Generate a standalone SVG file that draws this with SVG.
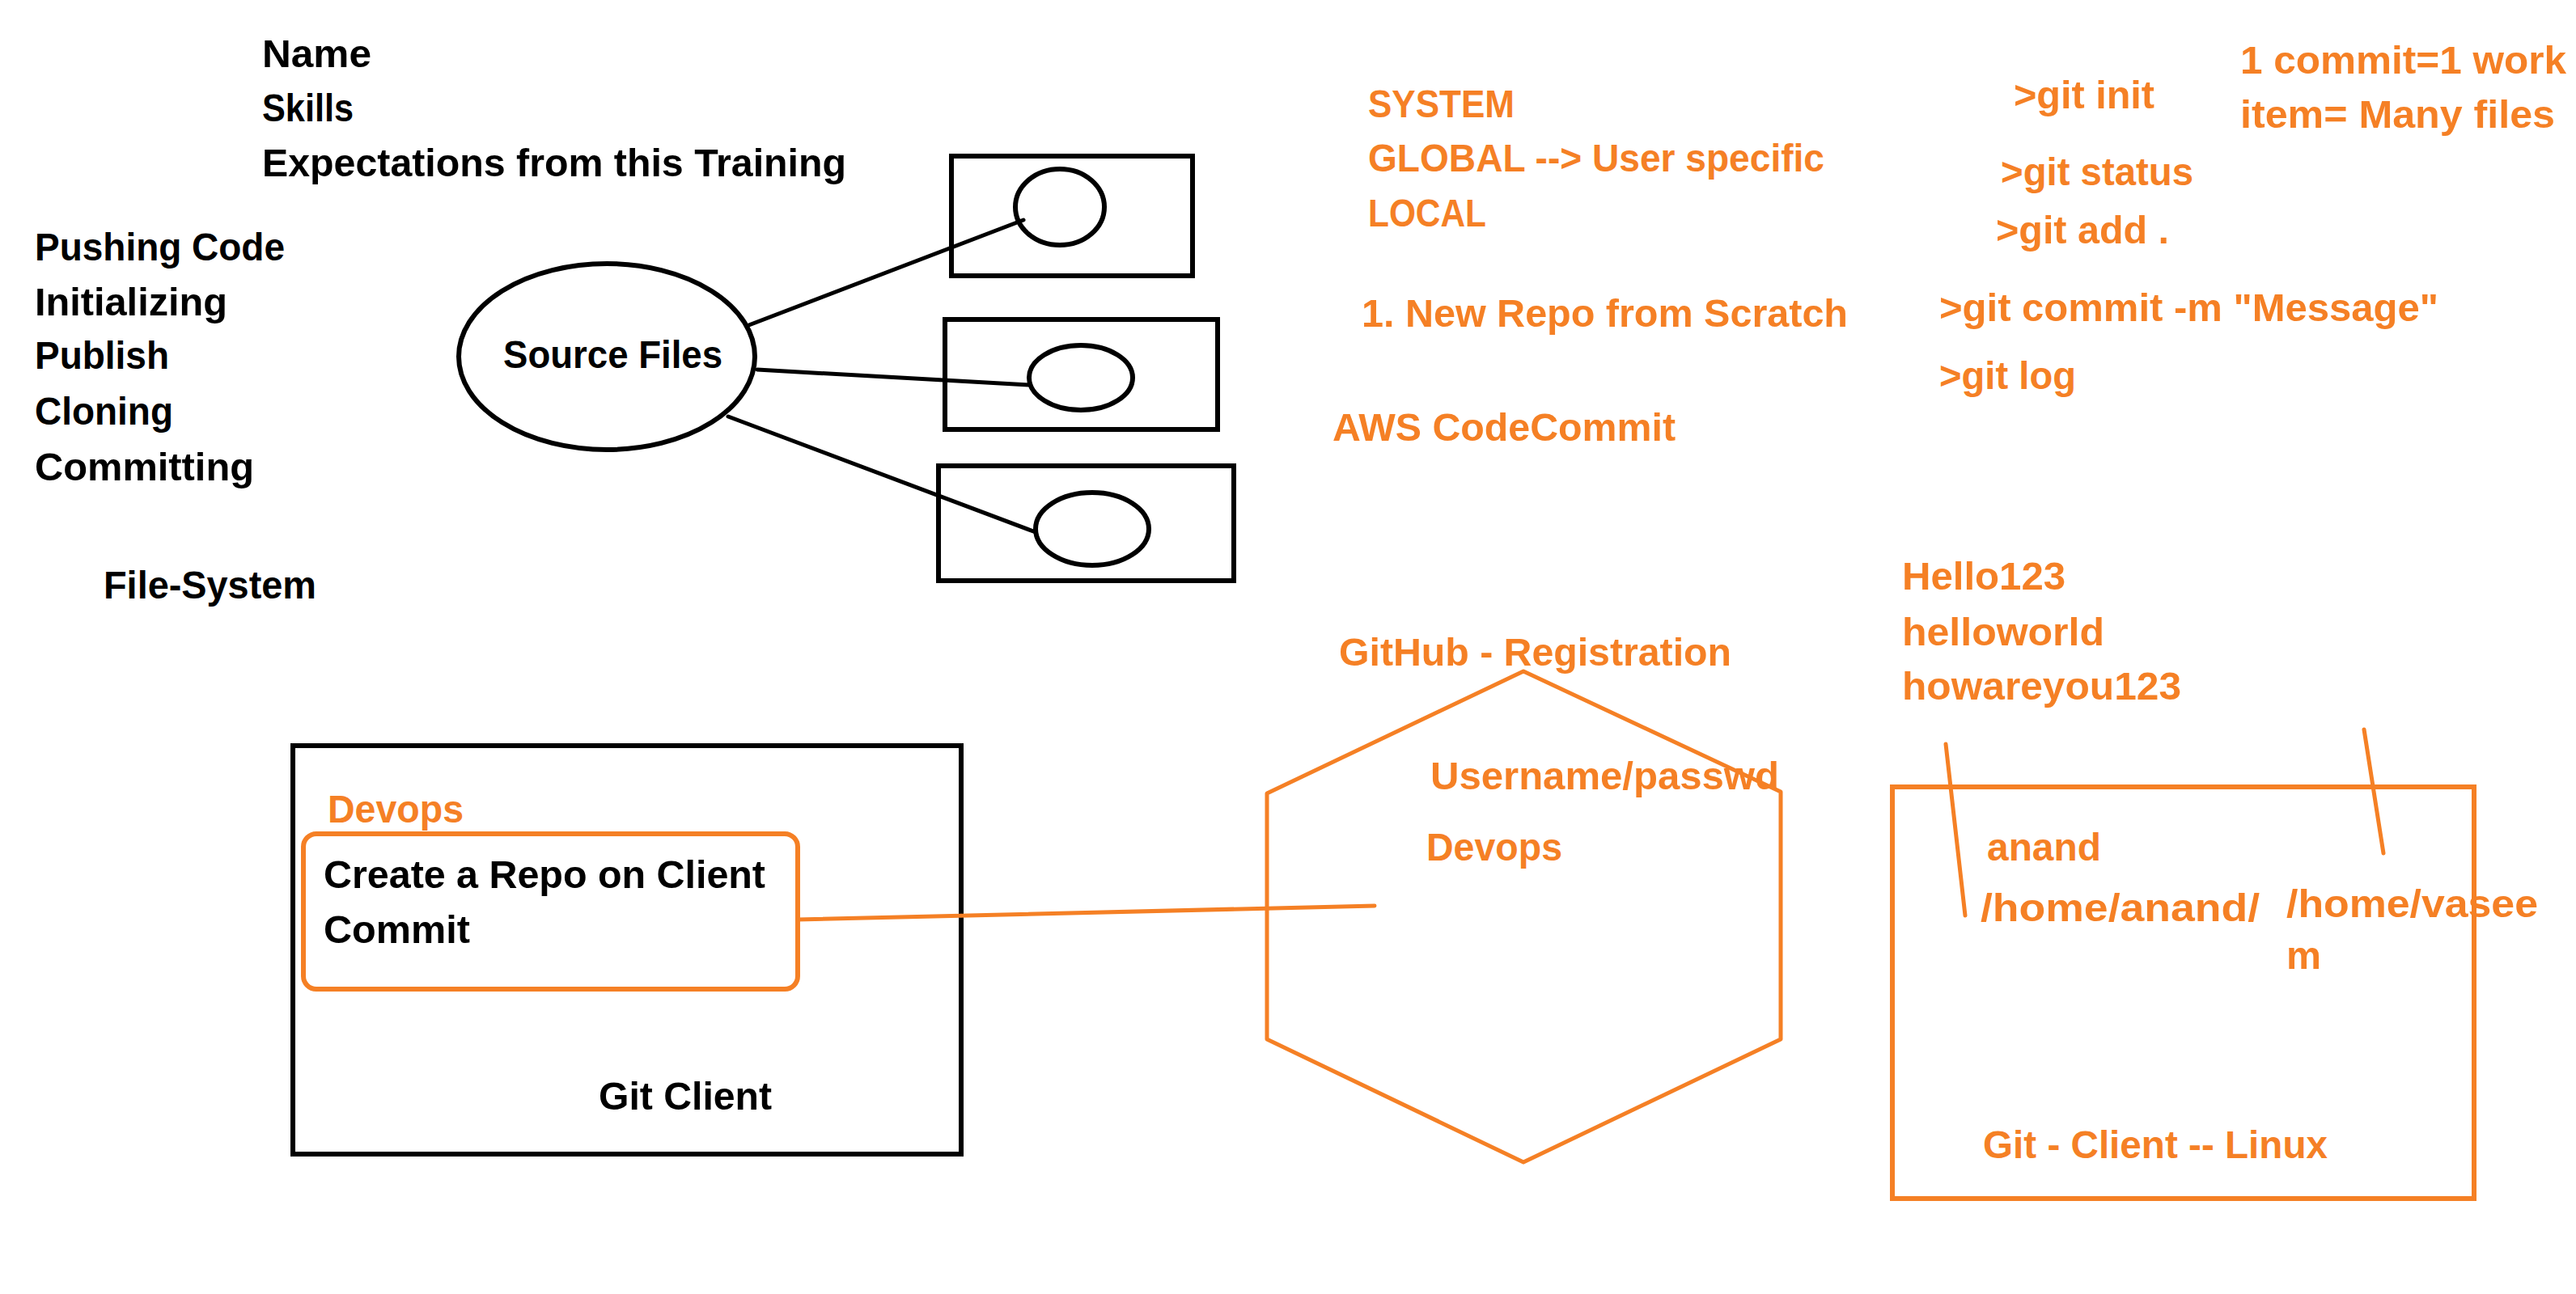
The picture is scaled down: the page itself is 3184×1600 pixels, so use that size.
<svg xmlns="http://www.w3.org/2000/svg" width="3184" height="1600" viewBox="0 0 3184 1600">
<style>
text{font-family:"Liberation Sans",Arial,sans-serif;font-weight:bold;font-size:48px}
.k{fill:#000}
.o{fill:#F58025}
.bk{fill:none;stroke:#000;stroke-width:6}
.ok{fill:none;stroke:#F58025;stroke-width:6}
.ol{fill:none;stroke:#F58025;stroke-width:5;stroke-linecap:round}
.bl{fill:none;stroke:#000;stroke-width:5;stroke-linecap:round}
</style>
<rect width="3184" height="1600" fill="#fff"/>

<g id="intro-list">
<text class="k" x="324" y="83" textLength="135" lengthAdjust="spacingAndGlyphs">Name</text>
<text class="k" x="324" y="150" textLength="113" lengthAdjust="spacingAndGlyphs">Skills</text>
<text class="k" x="324" y="218" textLength="722" lengthAdjust="spacingAndGlyphs">Expectations from this Training</text>
</g>

<g id="topics-list">
<text class="k" x="43" y="322" textLength="309" lengthAdjust="spacingAndGlyphs">Pushing Code</text>
<text class="k" x="43" y="390" textLength="238" lengthAdjust="spacingAndGlyphs">Initializing</text>
<text class="k" x="43" y="456" textLength="166" lengthAdjust="spacingAndGlyphs">Publish</text>
<text class="k" x="43" y="525" textLength="171" lengthAdjust="spacingAndGlyphs">Cloning</text>
<text class="k" x="43" y="594" textLength="271" lengthAdjust="spacingAndGlyphs">Committing</text>
<text class="k" x="128" y="740" textLength="263" lengthAdjust="spacingAndGlyphs">File-System</text>
</g>

<g id="source-files">
<ellipse class="bk" cx="750" cy="441" rx="183" ry="115"/>
<text class="k" x="622" y="455" textLength="271" lengthAdjust="spacingAndGlyphs">Source Files</text>
</g>

<g id="file-box-1">
<rect class="bk" x="1176" y="193" width="298" height="148"/>
<ellipse class="bk" cx="1310" cy="256" rx="55" ry="47"/>
</g>
<g id="file-box-2">
<rect class="bk" x="1168" y="395" width="337" height="136"/>
<ellipse class="bk" cx="1336" cy="467" rx="64" ry="40"/>
</g>
<g id="file-box-3">
<rect class="bk" x="1160" y="576" width="365" height="142"/>
<ellipse class="bk" cx="1350" cy="654" rx="70" ry="45"/>
</g>

<g id="config-notes">
<text class="o" x="1691" y="145" textLength="181" lengthAdjust="spacingAndGlyphs">SYSTEM</text>
<text class="o" x="1691" y="212" textLength="564" lengthAdjust="spacingAndGlyphs">GLOBAL --&gt; User specific</text>
<text class="o" x="1691" y="280" textLength="146" lengthAdjust="spacingAndGlyphs">LOCAL</text>
<text class="o" x="1683" y="404" textLength="601" lengthAdjust="spacingAndGlyphs">1. New Repo from Scratch</text>
<text class="o" x="1647" y="545" textLength="424" lengthAdjust="spacingAndGlyphs">AWS CodeCommit</text>
</g>

<g id="git-commands">
<text class="o" x="2489" y="134" textLength="174" lengthAdjust="spacingAndGlyphs">&gt;git init</text>
<text class="o" x="2473" y="229" textLength="238" lengthAdjust="spacingAndGlyphs">&gt;git status</text>
<text class="o" x="2467" y="301" textLength="214" lengthAdjust="spacingAndGlyphs">&gt;git add .</text>
<text class="o" x="2397" y="397" textLength="617" lengthAdjust="spacingAndGlyphs">&gt;git commit -m "Message"</text>
<text class="o" x="2397" y="481" textLength="169" lengthAdjust="spacingAndGlyphs">&gt;git log</text>
</g>

<g id="commit-note">
<text class="o" x="2769" y="91" textLength="403" lengthAdjust="spacingAndGlyphs">1 commit=1 work</text>
<text class="o" x="2769" y="158" textLength="389" lengthAdjust="spacingAndGlyphs">item= Many files</text>
</g>

<g id="passwords">
<text class="o" x="2351" y="729" textLength="202" lengthAdjust="spacingAndGlyphs">Hello123</text>
<text class="o" x="2351" y="798" textLength="250" lengthAdjust="spacingAndGlyphs">helloworld</text>
<text class="o" x="2351" y="865" textLength="345" lengthAdjust="spacingAndGlyphs">howareyou123</text>
</g>

<g id="git-client">
<rect class="bk" x="362" y="922" width="826" height="505"/>
<text class="o" x="405" y="1017" textLength="168" lengthAdjust="spacingAndGlyphs">Devops</text>
<text class="k" x="740" y="1372" textLength="214" lengthAdjust="spacingAndGlyphs">Git Client</text>
</g>

<g id="repo-box">
<rect class="ok" x="375" y="1031" width="611" height="192" rx="16" ry="16"/>
<text class="k" x="400" y="1098" textLength="546" lengthAdjust="spacingAndGlyphs">Create a Repo on Client</text>
<text class="k" x="400" y="1166" textLength="181" lengthAdjust="spacingAndGlyphs">Commit</text>
</g>

<g id="github">
<polygon class="ol" points="1883,830 2201,979 2201,1285 1883,1437 1566,1285 1566,981" stroke-linejoin="round"/>
<text class="o" x="1655" y="823" textLength="485" lengthAdjust="spacingAndGlyphs">GitHub - Registration</text>
<text class="o" x="1768" y="976" textLength="431" lengthAdjust="spacingAndGlyphs">Username/passwd</text>
<text class="o" x="1763" y="1064" textLength="168" lengthAdjust="spacingAndGlyphs">Devops</text>
</g>

<g id="linux-client">
<rect class="ok" x="2339" y="973" width="719" height="509"/>
<text class="o" x="2456" y="1064" textLength="141" lengthAdjust="spacingAndGlyphs">anand</text>
<text class="o" x="2448" y="1139" textLength="345" lengthAdjust="spacingAndGlyphs">/home/anand/</text>
<text class="o" x="2826" y="1134" textLength="311" lengthAdjust="spacingAndGlyphs">/home/vasee</text>
<text class="o" x="2826" y="1198" textLength="43" lengthAdjust="spacingAndGlyphs">m</text>
<text class="o" x="2451" y="1432" textLength="426" lengthAdjust="spacingAndGlyphs">Git - Client -- Linux</text>
</g>

<g id="connectors">
<line class="bl" x1="923" y1="403" x2="1265" y2="272"/>
<line class="bl" x1="936" y1="457" x2="1272" y2="476"/>
<line class="bl" x1="900" y1="515" x2="1280" y2="658"/>
<line class="ol" x1="986" y1="1137" x2="1699" y2="1120" stroke-width="6"/>
<line class="ol" x1="2405" y1="920" x2="2429" y2="1132"/>
<line class="ol" x1="2922" y1="902" x2="2946" y2="1055"/>
</g>
</svg>
